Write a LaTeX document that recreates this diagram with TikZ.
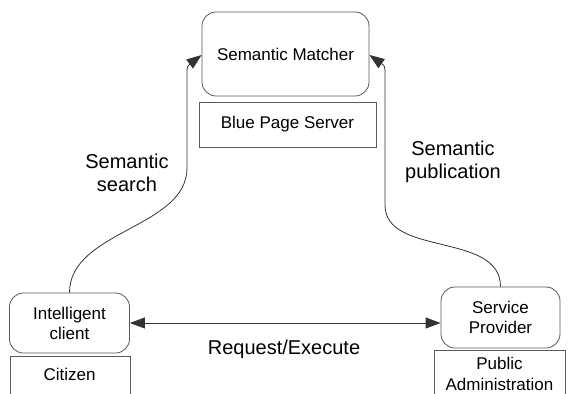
\documentclass[tikz,border=0pt]{standalone}
\usepackage{fontspec}
\setmainfont{Liberation Sans}
\usetikzlibrary{positioning}
\usetikzlibrary{arrows.meta}

\begin{document}
\begin{tikzpicture}[x=1pt,y=-1pt,>={Triangle[length=15pt,width=11pt]},
	line width=0.8pt,
	role node/.style={draw=black!65,rounded corners=14pt,align=center,
		font=\fontsize{17}{20}\selectfont,inner sep=0pt},
	place node/.style={draw=black!65,align=center,anchor=north west,
		font=\fontsize{17}{21}\selectfont,inner sep=0pt},
	label node/.style={align=center,font=\fontsize{20}{23}\selectfont}]
	
	\clip (0,0) rectangle (571,394);
	
	\node[role node,minimum width=167pt,minimum height=84pt] (matcher) at (285.5,54) {Semantic Matcher};
	\node[draw=black!65,minimum width=177pt,minimum height=45pt,inner sep=0pt,
		font=\fontsize{17}{20}\selectfont] (bps) at (287.5,124.5) {Blue Page Server};
	\node[role node,minimum width=120pt,minimum height=60pt] (client) at (69.5,323) {Intelligent\\client};
	\node[role node,minimum width=119pt,minimum height=61pt] (provider) at (500.5,317.5) {Service\\Provider};
	
	\node[place node,minimum width=120pt,minimum height=60pt] (citizen) at (10,356) {};
	\node at (69.5,374) {\fontsize{17}{20}\selectfont Citizen};
	\node[place node,minimum width=131pt,minimum height=60pt] (admin) at (434,350) {};
	\node[align=center,font=\fontsize{17}{21}\selectfont] at (499.5,374) {Public\\Administration};
	
	\coordinate (s1) at (187,168);
	\coordinate (s2) at (187,78);
	\coordinate (p1) at (385,205);
	\coordinate (p2) at (385,78);
	
	\draw[->,black!80] (client.north) .. controls +(0,-62) and +(0,60) .. (s1)
		-- (s2) .. controls (187,66) .. (matcher.west |- 0,55);
	\draw[->,black!80] (provider.north) .. controls +(0,-55) and +(0,52) .. (p1)
		-- (p2) .. controls (385,66) .. (matcher.east |- 0,55);
	\draw[<->,black!80] (client.east) -- (provider.west |- client.east);
	
	\node[label node] (search) at (127,173) {Semantic\\search};
	\node[label node] (publication) at (453,162) {Semantic\\publication};
	\node[label node] (request) at (284,349) {Request/Execute};
\end{tikzpicture}
\end{document}
